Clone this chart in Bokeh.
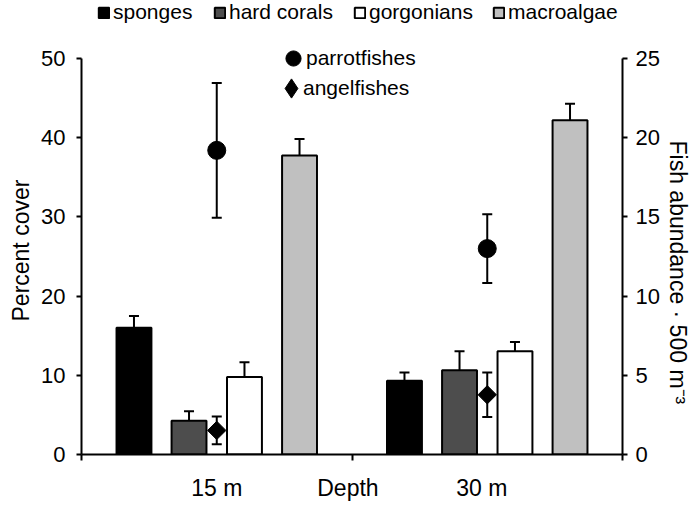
from bokeh.plotting import figure
from bokeh.models import (Range1d, LinearAxis, FixedTicker, ColumnDataSource,
                          Whisker, TeeHead, Legend, LegendItem, Title)
from bokeh.embed import file_html
from bokeh.resources import INLINE
import numpy as np

# ---------------- data ----------------
depth_labels = ["15 m", "Depth", "30 m"]
depth_label_pos = [1, 1.97, 2.96]
depth_pos = [1, 3]
x_tick_marks = [0, 2, 4]

cover_names = ["sponges", "hard corals", "gorgonians", "macroalgae"]
sponges = [16.0, 9.3]
sponges_se = [1.5, 1.05]
hard_corals = [4.25, 10.65]
hard_corals_se = [1.2, 2.4]
gorgonians = [9.8, 13.05]
gorgonians_se = [1.85, 1.15]
macroalgae = [37.75, 42.2]
macroalgae_se = [2.1, 2.1]

parrotfishes = [19.2, 13.0]
parrotfishes_se = [4.25, 2.17]
angelfishes = [1.52, 3.77]
angelfishes_se = [0.88, 1.4]

left_ticks = [0, 10, 20, 30, 40, 50]
right_ticks = [0, 5, 10, 15, 20, 25]

# ---------------- styling ----------------
FONT = "Liberation Sans"
bar_colors = ["#000000", "#4d4d4d", "#ffffff", "#c0c0c0"]
bar_offsets = [-0.612, -0.205, 0.205, 0.612]
bar_width = 0.258

# frame reaches the top of the canvas (room for legends); axes are bounded to 0-50 / 0-25
FRAME_H = 454.0
AXIS_H = 396.0
y_top = 50 * FRAME_H / AXIS_H
y_top_fish = 25 * FRAME_H / AXIS_H

p = figure(width=695, height=503, x_range=Range1d(0, 4), y_range=Range1d(0, y_top),
           output_backend="svg", toolbar_location=None,
           min_border_left=79, min_border_right=71, min_border_top=0, min_border_bottom=40)
p.extra_y_ranges = {"fish": Range1d(0, y_top_fish)}
p.xgrid.visible = False
p.ygrid.visible = False
p.outline_line_color = None
p.background_fill_color = "white"
p.border_fill_color = "white"

# bars
series = [sponges, hard_corals, gorgonians, macroalgae]
series_se = [sponges_se, hard_corals_se, gorgonians_se, macroalgae_se]
bar_renderers = []
for vals, se, col, off in zip(series, series_se, bar_colors, bar_offsets):
    xs = [d + off for d in depth_pos]
    src = ColumnDataSource(dict(x=xs, top=vals,
                                upper=[v + e for v, e in zip(vals, se)]))
    w = Whisker(source=src, base="x", lower="top", upper="upper", dimension="height",
                line_color="black", line_width=2, lower_head=None,
                upper_head=TeeHead(size=10, line_width=2, line_color="black"))
    p.add_layout(w)
    r = p.vbar(x="x", top="top", bottom=0, width=bar_width, source=src,
               fill_color=col, line_color="black", line_width=2)
    bar_renderers.append(r)

# fish points (right axis)
for vals, se in [(parrotfishes, parrotfishes_se), (angelfishes, angelfishes_se)]:
    src = ColumnDataSource(dict(x=depth_pos, lower=[v - e for v, e in zip(vals, se)],
                                upper=[v + e for v, e in zip(vals, se)]))
    p.add_layout(Whisker(source=src, base="x", lower="lower", upper="upper",
                         dimension="height", y_range_name="fish",
                         line_color="black", line_width=2,
                         lower_head=TeeHead(size=10, line_width=2, line_color="black"),
                         upper_head=TeeHead(size=10, line_width=2, line_color="black")))

r_parrot = p.scatter(x=depth_pos, y=parrotfishes, y_range_name="fish", marker="circle",
                     size=18, color="black")
p.scatter(x=depth_pos, y=angelfishes, y_range_name="fish", marker="square",
          angle=np.pi / 4, size=13, color="black")
# hidden twins used only for legend symbols / legend text
r_angel_leg = p.scatter(x=depth_pos, y=angelfishes, y_range_name="fish", marker="diamond",
                        size=18, color="black", visible=False)
r_blank = p.scatter(x=depth_pos, y=angelfishes, y_range_name="fish", marker="circle",
                    size=1, fill_alpha=0, line_alpha=0, visible=False)

# axes
xa = p.xaxis[0]
xa.ticker = FixedTicker(ticks=depth_label_pos, minor_ticks=x_tick_marks)
xa.major_label_overrides = {t: lab for t, lab in zip(depth_label_pos, depth_labels)}
xa.major_tick_line_color = None
xa.major_tick_out = 0
xa.major_tick_in = 0
xa.minor_tick_out = 6
xa.minor_tick_in = 0
xa.minor_tick_line_color = "black"
xa.minor_tick_line_width = 2
xa.axis_line_width = 2
xa.axis_line_color = "black"
xa.major_label_standoff = 14
xa.major_label_text_font = FONT
xa.major_label_text_font_size = "23px"
xa.major_label_text_color = "black"

ya = p.yaxis[0]
ya.ticker = FixedTicker(ticks=left_ticks)
ya.bounds = (0, 50)

ra = LinearAxis(y_range_name="fish", ticker=FixedTicker(ticks=right_ticks), bounds=(0, 25))
p.add_layout(ra, "right")

for ax, st in [(ya, 11), (ra, 8)]:
    ax.axis_line_width = 2
    ax.axis_line_color = "black"
    ax.major_tick_out = 5
    ax.major_tick_in = 0
    ax.major_tick_line_width = 2
    ax.major_tick_line_color = "black"
    ax.minor_tick_line_color = None
    ax.major_label_standoff = st
    ax.major_label_text_font = FONT
    ax.major_label_text_font_size = "22px"
    ax.major_label_text_color = "black"

# axis titles (side titles, start-aligned with an offset along the axis)
title_style = dict(align="left", text_font=FONT, text_font_size="23px",
                   text_font_style="normal", text_color="black")
p.add_layout(Title(text="Percent cover", offset=133, standoff=10, **title_style), "left")
p.add_layout(Title(text="Fish abundance · 500 m⁻³", offset=140, standoff=5, **title_style), "right")

# legends
common = dict(padding=0, margin=0, label_text_font=FONT, label_text_font_size="21px",
              label_text_color="black", background_fill_alpha=0, border_line_alpha=0)

legend_x = [16, 132, 272, 411]
for n, r, lx in zip(cover_names, bar_renderers, legend_x):
    p.add_layout(Legend(items=[LegendItem(label=n, renderers=[r], index=0)],
                        location=(lx, 430), glyph_width=13, glyph_height=13,
                        label_standoff=3, **common))

# fish legend: symbol and text placed separately
p.add_layout(Legend(items=[LegendItem(label=" ", renderers=[r_parrot], index=0)],
                    location=(193, 377), glyph_width=38, glyph_height=38, label_standoff=0, **common))
p.add_layout(Legend(items=[LegendItem(label="parrotfishes", renderers=[r_blank], index=0)],
                    location=(224, 377), glyph_width=1, glyph_height=38, label_standoff=0, **common))
p.add_layout(Legend(items=[LegendItem(label=" ", renderers=[r_angel_leg], index=0)],
                    location=(186, 342), glyph_width=48, glyph_height=48, label_standoff=0, **common))
p.add_layout(Legend(items=[LegendItem(label="angelfishes", renderers=[r_blank], index=0)],
                    location=(221, 342), glyph_width=1, glyph_height=48, label_standoff=0, **common))

open("out.html", "w").write(file_html(p, INLINE))
